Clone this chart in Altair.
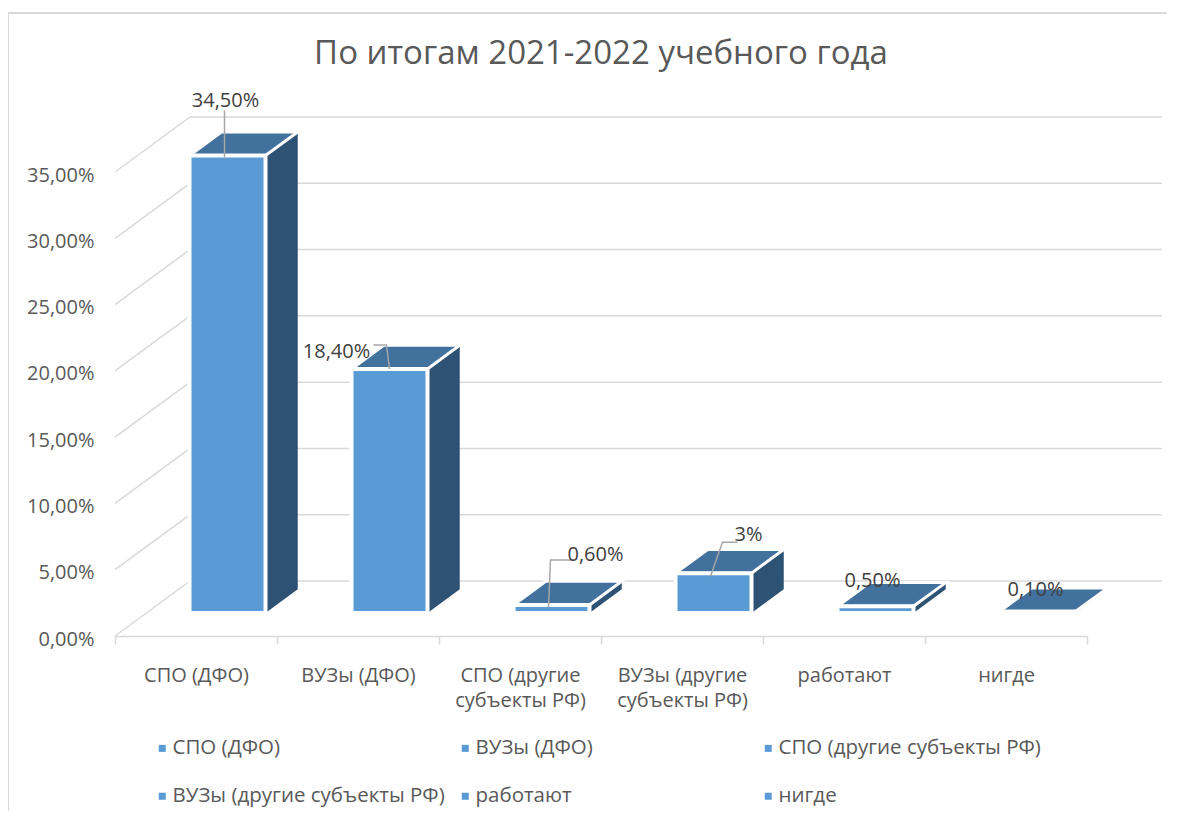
import json
import altair as alt
import pandas as pd

# ---------------- data ----------------
categories = ["СПО (ДФО)", "ВУЗы (ДФО)", "СПО (другие субъекты РФ)",
              "ВУЗы (другие субъекты РФ)", "работают", "нигде"]
axis_labels = [["СПО (ДФО)"], ["ВУЗы (ДФО)"], ["СПО (другие", "субъекты РФ)"],
               ["ВУЗы (другие", "субъекты РФ)"], ["работают"], ["нигде"]]
values = [34.5, 18.4, 0.6, 3.0, 0.5, 0.1]
value_labels = ["34,50%", "18,40%", "0,60%", "3%", "0,50%", "0,10%"]
y_ticks = [0, 5, 10, 15, 20, 25, 30, 35]
title_text = "По итогам 2021-2022 учебного года"

# ---------------- style / layout ----------------
FONT = "Open Sans"
FRONT, TOP, SIDE = "#5B9BD5", "#41719C", "#2E5274"
GRID = "#D9D9D9"
TXT = "#595959"
W, H = 972, 464
X_MAX, Y_MAX = len(categories), 35
PX_X, PX_Y = W / X_MAX, H / Y_MAX
DX, DY = 75 / PX_X, 55 / PX_Y          # full depth of the 3D box, in data units
D0, D1 = 0.42, 0.85                    # depth range occupied by the bars
HALF_W = 38 / PX_X

# label offsets (px, from the front-top centre of each bar) and leader polylines
label_off = [(-2, -55), (-53, -17), (44, -50), (35, -38), (-3, -25), (-2, -22)]
leaders = {0: [(-3, 3), (-3, -45)],
           1: [(0, 0), (-3, -24), (-16, -24)],
           2: [(-3, 2), (-1, -45), (22, -45)],
           3: [(-3, 3), (9, -31), (24, -31)]}

xs = alt.Scale(domain=[0, X_MAX], nice=False, zero=False)
ys = alt.Scale(domain=[0, Y_MAX], nice=False, zero=False)

label_expr = json.dumps(axis_labels, ensure_ascii=False) + "[datum.value] || ''"
x_axis = alt.Axis(values=list(range(X_MAX + 1)), title=None, grid=False,
                  domainColor=GRID, domainWidth=1.5, tickColor=GRID, tickWidth=1.5,
                  tickSize=8, labelExpr=label_expr, labelOffset=PX_X / 2,
                  labelPadding=21, labelLineHeight=25, labelFontSize=20,
                  labelColor=TXT, labelOverlap=False, labelFlush=False,
                  labelBound=False, labelAlign="center")
y_axis = alt.Axis(values=y_ticks, title=None, grid=False, domain=False, ticks=False,
                  labelExpr="replace(format(datum.value, '.2f'), '.', ',') + '%'",
                  labelPadding=21, labelFontSize=20, labelColor=TXT, labelOffset=3)


def X(f):
    return alt.X(f, type="quantitative", scale=xs, axis=x_axis)


def Y(f):
    return alt.Y(f, type="quantitative", scale=ys, axis=y_axis, stack=None)


# ---------------- derived geometry ----------------
grid_back = pd.DataFrame({"x": [DX] * len(y_ticks), "x2": [X_MAX + DX] * len(y_ticks),
                          "y": [v + DY for v in y_ticks]})
grid_side = pd.DataFrame({"x": [0] * len(y_ticks), "x2": [DX] * len(y_ticks),
                          "y": y_ticks, "y2": [v + DY for v in y_ticks]})

front_rows, top_rows, side_rows, lab_rows, lead_rows = [], [], [], [], []
for i, (c, v) in enumerate(zip(categories, values)):
    xl, xr = i + 0.5 - HALF_W, i + 0.5 + HALF_W
    front_rows.append({"cat": c, "x": xl + D0 * DX, "x2": xr + D0 * DX,
                       "y": D0 * DY, "y2": v + D0 * DY})
    for d in (D0, D1):
        top_rows.append({"cat": c, "y": v + d * DY, "x": xl + d * DX, "x2": xr + d * DX})
        side_rows.append({"cat": c, "x": xr + d * DX, "y": d * DY, "y2": v + d * DY})
    ax, ay = i + 0.5 + D0 * DX, v + D0 * DY
    ox, oy = label_off[i]
    lab_rows.append({"x": ax + ox / PX_X, "y": ay - oy / PX_Y, "t": value_labels[i]})
    for k, (px, py) in enumerate(leaders.get(i, [])):
        lead_rows.append({"id": i, "k": k, "x": ax + px / PX_X, "y": ay - py / PX_Y})

front = pd.DataFrame(front_rows)
top = pd.DataFrame(top_rows)
side = pd.DataFrame(side_rows)
labs = pd.DataFrame(lab_rows)
leads = pd.DataFrame(lead_rows)
one = pd.DataFrame({"t": [title_text]})

# ---------------- layers ----------------
border = alt.Chart(one).mark_rect(fill="transparent", stroke=GRID, strokeWidth=2).encode(
    x=alt.value(-107), x2=alt.value(W + 300), y=alt.value(-159), y2=alt.value(H + 400))

title = alt.Chart(one).mark_text(fontSize=33, color=TXT, baseline="middle",
                                 align="center").encode(
    x=alt.value(W / 2), y=alt.value(-118), text="t:N")

back_lines = alt.Chart(grid_back).mark_rule(color=GRID, strokeWidth=1.5).encode(
    x=X("x"), x2="x2", y=Y("y"))
side_lines = alt.Chart(grid_side).mark_rule(color=GRID, strokeWidth=1.5).encode(
    x=X("x"), x2="x2", y=Y("y"), y2="y2")

side_faces = alt.Chart(side).mark_area(color=SIDE, orient="vertical").encode(
    x=X("x"), y=Y("y"), y2="y2", detail="cat:N")
top_faces = alt.Chart(top).mark_area(color=TOP, orient="horizontal", stroke="white",
                                     strokeWidth=3).encode(
    y=Y("y"), x=alt.X("x", type="quantitative", scale=xs, axis=x_axis, stack=None),
    x2="x2", detail="cat:N")
front_faces = alt.Chart(front).mark_rect(stroke="white", strokeWidth=4).encode(
    x=X("x"), x2="x2", y=Y("y"), y2="y2",
    color=alt.Color("cat:N", scale=alt.Scale(domain=categories, range=[FRONT] * len(categories)),
                    legend=alt.Legend(orient="none", legendX=37, legendY=566, columns=3,
                                      direction="horizontal",
                                      title=None, symbolType="square", symbolSize=49,
                                      symbolStrokeWidth=0, labelFontSize=20.5,
                                      labelColor=TXT, labelLimit=0, gridAlign="all",
                                      columnPadding=10, rowPadding=27, labelOffset=0,
                                      padding=0)))

leader_lines = alt.Chart(leads).mark_line(color="#A6A6A6", strokeWidth=1.5).encode(
    x=X("x"), y=Y("y"), detail="id:N", order="k:Q")
value_text = alt.Chart(labs).mark_text(fontSize=20, color="#404040", baseline="middle",
                                       align="center").encode(
    x=X("x"), y=Y("y"), text="t:N")

chart = alt.layer(border, title, back_lines, side_lines, side_faces, top_faces,
                  front_faces, leader_lines, value_text).properties(
    width=W, height=H, autosize=alt.AutoSizeParams(type="none"),
    padding={"left": 107, "top": 164, "right": 80, "bottom": 175},
    background="white"
).configure(font=FONT).configure_view(strokeWidth=0)

chart.save("out.html", embed_options={"renderer": "svg", "actions": False})
